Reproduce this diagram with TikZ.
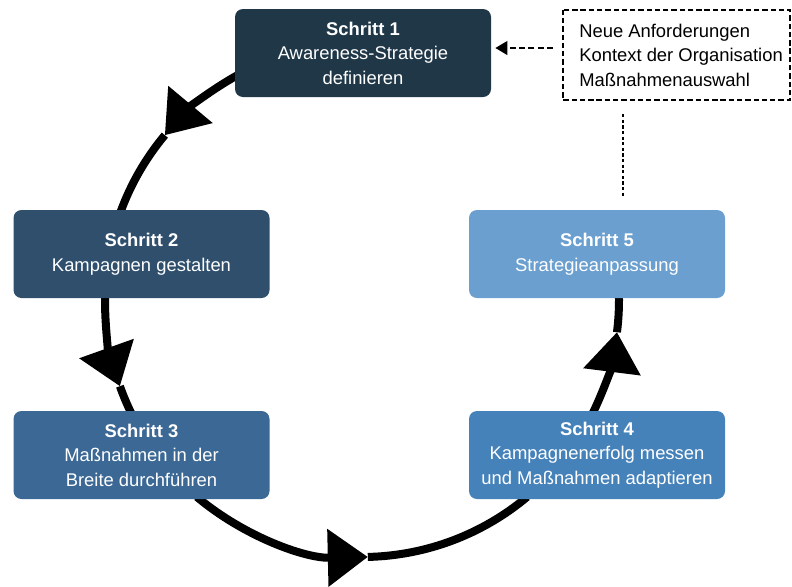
\documentclass[tikz,border=0pt]{standalone}
\usepackage{fontspec}
\setmainfont{Liberation Sans}
\usetikzlibrary{arrows.meta}
\definecolor{stepA}{HTML}{203748}
\definecolor{stepB}{HTML}{2F4F6D}
\definecolor{stepC}{HTML}{3B6894}
\definecolor{stepD}{HTML}{4682BA}
\definecolor{stepE}{HTML}{6A9FCF}
\tikzset{
  stepbox/.style={rounded corners=6pt, text=white, align=center, minimum width=192pt, minimum height=66pt, inner sep=2pt, font=\fontsize{13.8pt}{18.4pt}\selectfont},
  infotext/.style={align=left, minimum height=67.5pt, inner sep=0pt, font=\fontsize{13.8pt}{18.4pt}\selectfont},
  infoframe/.style={line width=1.6pt, dash pattern=on 4pt off 2.2pt},
  ring/.style={line width=6pt},
  bigtip/.style={-{Triangle[length=30pt,width=42pt]}},
  feedarrow/.style={line width=2pt, dash pattern=on 4.5pt off 2.5pt, -{Triangle[length=9pt,width=10pt]}},
  dotline/.style={line width=2pt, dash pattern=on 2.4pt off 1.8pt}
}
\begin{document}
\begin{tikzpicture}[x=0.75pt,y=0.75pt,yscale=-1,xscale=1]
\useasboundingbox (0,0) rectangle (792,586);
\coordinate (c) at (362,300);
\foreach \a/\t/\b in {241/219.9/200, 181/160.4/154, 130/88.7/50, 26/7.2/-1} {
  \draw[ring,bigtip] (c) ++(\a:257) arc[start angle=\a, end angle=\t, radius=257];
  \draw[ring] (c) ++(\t:257) arc[start angle=\t, end angle=\b, radius=257];
}
\node[stepbox, fill=stepA] (s1) at (363,53) {\textbf{Schritt 1}\\Awareness-Strategie\\definieren};
\node[stepbox, fill=stepB] (s2) at (141.5,254) {\textbf{Schritt 2}\\Kampagnen gestalten};
\node[stepbox, fill=stepC] (s3) at (141.5,455) {\textbf{Schritt 3}\\Maßnahmen in der\\Breite durchführen};
\node[stepbox, fill=stepD] (s4) at (597,455) {\textbf{Schritt 4}\\Kampagnenerfolg messen\\und Maßnahmen adaptieren};
\node[stepbox, fill=stepE] (s5) at (597,254) {\textbf{Schritt 5}\\Strategieanpassung};
\node[infotext, anchor=west] (info) at (579,55) {Neue Anforderungen\\Kontext der Organisation\\Maßnahmenauswahl};
\draw[infoframe] ([xshift=-12pt]info.north west) rectangle ([xshift=5pt]info.south east);
\coordinate (fb) at (0,48);
\coordinate (fd) at (623,0);
\draw[feedarrow, shorten <=19.5pt, shorten >=3pt] (info.west |- fb) -- (s1.east |- fb);
\draw[dotline, shorten <=10.5pt, shorten >=9.5pt] (info.south -| fd) -- (s5.north -| fd);
\end{tikzpicture}
\end{document}
